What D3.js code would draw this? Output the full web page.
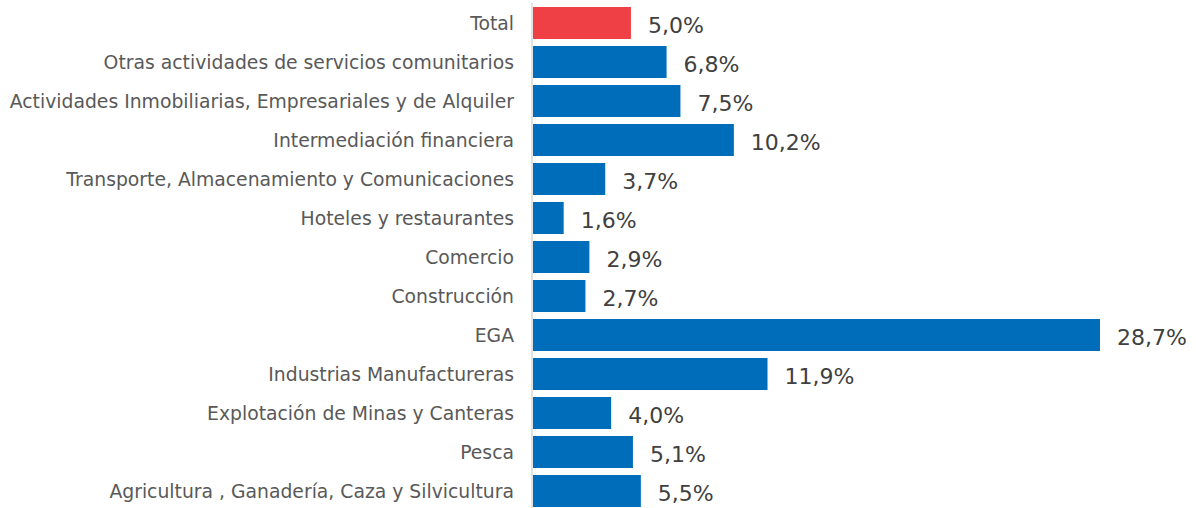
<!DOCTYPE html>
<html><head><meta charset="utf-8">
<script src="https://cdn.jsdelivr.net/npm/d3@7"></script>
<style>body{margin:0;background:#fff}svg{display:block}</style>
</head><body>
<svg id="chart" width="1196" height="508"></svg>
<script>
const categories = ["Total","Otras actividades de servicios comunitarios","Actividades Inmobiliarias, Empresariales y de Alquiler","Intermediación financiera","Transporte, Almacenamiento y Comunicaciones","Hoteles y restaurantes","Comercio","Construcción","EGA","Industrias Manufactureras","Explotación de Minas y Canteras","Pesca","Agricultura , Ganadería, Caza y Silvicultura"];
const values = [5.0,6.8,7.5,10.2,3.7,1.6,2.9,2.7,28.7,11.9,4.0,5.1,5.5];
const highlight = ["Total"];

const svg = d3.select("#chart");
const x0 = 532;
const x = d3.scaleLinear().domain([0, 28.7]).range([x0, 1100]);
const y = d3.scaleBand().domain(categories).range([3.5, 510.5]).paddingInner(7/39).paddingOuter(3.5/39);

svg.selectAll("rect.bar").data(values).join("rect")
  .attr("class","bar")
  .attr("x", x0 + 1)
  .attr("y", (d,i) => y(categories[i]))
  .attr("width", d => x(d) - x0 - 1)
  .attr("height", y.bandwidth())
  .attr("fill", (d,i) => highlight.includes(categories[i]) ? "#EF4145" : "#006DBA");

svg.append("line").attr("x1", x0).attr("x2", x0).attr("y1", 3).attr("y2", 508)
  .attr("stroke", "#d9d9d9").attr("stroke-width", 1.5);

const fmt = v => v.toFixed(1).replace(".", ",") + "%";
svg.selectAll("text.val").data(values).join("text")
  .attr("class","val")
  .attr("x", d => x(d) + 17)
  .attr("y", (d,i) => y(categories[i]) + y.bandwidth()/2 + 4)
  .attr("dominant-baseline","middle")
  .attr("font-family","Verdana, 'DejaVu Sans', sans-serif")
  .attr("font-size", 22)
  .attr("fill","#404040")
  .text(fmt);

svg.selectAll("text.cat").data(categories).join("text")
  .attr("class","cat")
  .attr("x", 514)
  .attr("y", d => y(d) + y.bandwidth()/2 + 1)
  .attr("text-anchor","end")
  .attr("dominant-baseline","middle")
  .attr("font-family","Verdana, 'DejaVu Sans', sans-serif")
  .attr("font-size", 18.8)
  .attr("fill","#595959")
  .text(d => d);
</script>
</body></html>
